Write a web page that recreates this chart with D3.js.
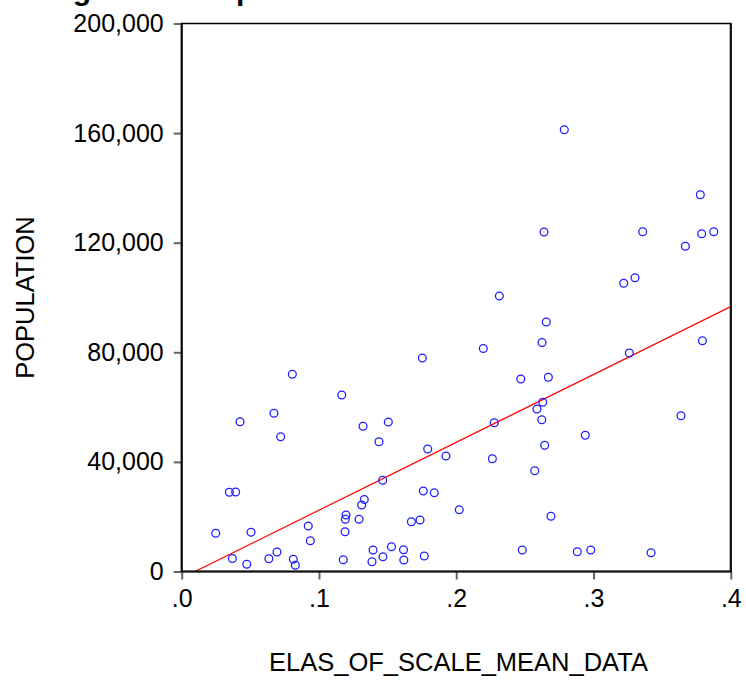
<html>
<head>
<meta charset="utf-8">
<title>Population vs ELAS_OF_SCALE_MEAN_DATA</title>
<script src="https://d3js.org/d3.v7.min.js"></script>
<style>
  body { margin: 0; background: #fff; }
  text { font-family: "Liberation Sans", Arial, Helvetica, sans-serif; }
</style>
</head>
<body>
<div id="chart"></div>
<script>
// values
const elasOfScale = [
  0.0806, 0.1166, 0.0672, 0.0425, 0.1321, 0.0721, 0.1437, 0.0347, 0.0393, 0.1330,
  0.1311, 0.1197, 0.1192, 0.1292, 0.0922, 0.0248, 0.0505, 0.1190, 0.0937, 0.1394,
  0.0694, 0.0369, 0.0635, 0.0813, 0.1177, 0.0474, 0.0828, 0.1386, 0.1466, 0.1753,
  0.2197, 0.2625, 0.2470, 0.2671, 0.2630, 0.2588, 0.2623, 0.1505, 0.2277, 0.2644,
  0.1792, 0.1925, 0.2263, 0.2572, 0.1464, 0.1760, 0.1840, 0.2022, 0.1736, 0.1673,
  0.2690, 0.1528, 0.1616, 0.2481, 0.1618, 0.1767, 0.2787, 0.3778, 0.2639, 0.3358,
  0.3788, 0.3876, 0.3669, 0.3220, 0.3302, 0.2656, 0.3793, 0.3261, 0.3637, 0.2940,
  0.2882, 0.2980, 0.3419, 0.2314
];
const population = [
  71970, 64415, 57735, 54670, 52990, 49200, 47370, 28905, 29015, 26280,
  24270, 20620, 19050, 19050, 16605, 13940, 14305, 14525, 11240, 7845,
  7115, 4745, 4670, 4490, 4305, 2630, 2300, 3575, 5400, 77920,
  81385, 83575, 70255, 70875, 61750, 59305, 55400, 54560, 54306, 46058,
  44708, 42153, 41167, 36788, 33284, 29379, 28759, 22555, 18795, 18175,
  20146, 9014, 7956, 7847, 4197, 5657, 161240, 137517, 123904, 124013,
  123284, 124013, 118685, 105181, 107225, 91058, 84233, 79744, 56861, 49708,
  7226, 7847, 6861, 100546
];
const fitIntercept = -2400;
const fitSlope = 247700;

const xTicks = [0, 0.1, 0.2, 0.3, 0.4];
const xTickLabels = [".0", ".1", ".2", ".3", ".4"];
const yTicks = [0, 40000, 80000, 120000, 160000, 200000];
const yTickLabels = ["0", "40,000", "80,000", "120,000", "160,000", "200,000"];

const titleText = "Figure 10: Population vs Elas of Scale Mean";
const xLabel = "ELAS_OF_SCALE_MEAN_DATA";
const yLabel = "POPULATION";

const W = 746, H = 683;
const margin = {top: 23.5, right: 15.2, bottom: 111.5, left: 181.7};
const width = W - margin.left - margin.right;
const height = H - margin.top - margin.bottom;

const svg = d3.select("#chart").append("svg")
    .attr("width", W)
    .attr("height", H);

// title: in the source picture it sits above the top edge, only its bottom shows
svg.append("text")
    .attr("x", 46)
    .attr("y", 0)
    .style("font-weight", "bold")
    .style("font-size", "30px")
    .text(titleText);

const g = svg.append("g")
    .attr("transform", "translate(" + margin.left + "," + margin.top + ")");

const x = d3.scaleLinear().domain([0, 0.4]).range([0, width]);
const y = d3.scaleLinear().domain([0, 200000]).range([height, 0]);

g.append("clipPath").attr("id", "plotclip")
  .append("rect").attr("width", width).attr("height", height);

// fitted line
const xStart = Math.max(0, -fitIntercept / fitSlope);
const xEnd = 0.4;
g.append("line")
    .attr("clip-path", "url(#plotclip)")
    .attr("x1", x(xStart)).attr("y1", y(fitIntercept + fitSlope * xStart))
    .attr("x2", x(xEnd)).attr("y2", y(fitIntercept + fitSlope * xEnd))
    .attr("stroke", "#ff0000")
    .attr("stroke-width", 1.2);

// points
g.selectAll("circle.pt")
    .data(d3.range(elasOfScale.length))
    .enter().append("circle")
    .attr("class", "pt")
    .attr("cx", i => x(elasOfScale[i]))
    .attr("cy", i => y(population[i]))
    .attr("r", 3.9)
    .attr("fill", "none")
    .attr("stroke", "#1f1fff")
    .attr("stroke-width", 1.3);

// axes
const xAxis = g.append("g")
    .attr("transform", "translate(0," + height + ")")
    .call(d3.axisBottom(x).tickValues(xTicks).tickSize(8).tickPadding(10)
        .tickFormat((d, i) => xTickLabels[i]));
const yAxis = g.append("g")
    .call(d3.axisLeft(y).tickValues(yTicks).tickSize(8).tickPadding(10)
        .tickFormat((d, i) => yTickLabels[i]));

[xAxis, yAxis].forEach(a => {
  a.select(".domain").remove();
  a.selectAll(".tick line").attr("stroke", "#666").attr("stroke-width", 2);
  a.selectAll(".tick text")
      .attr("fill", "#000")
      .style("font-size", "25px")
      .style("font-family", "'Liberation Sans', Arial, Helvetica, sans-serif");
});

// frame
g.append("rect")
    .attr("width", width).attr("height", height)
    .attr("fill", "none")
    .attr("stroke", "#000")
    .attr("stroke-width", 1.5);
g.append("path")
    .attr("d", "M0,0V" + height + "H" + width + "V0")
    .attr("fill", "none")
    .attr("stroke", "#111")
    .attr("stroke-width", 2.2);

// axis titles
svg.append("text")
    .attr("x", 458.5)
    .attr("y", 671)
    .attr("text-anchor", "middle")
    .style("font-size", "25.5px")
    .text(xLabel);
svg.append("text")
    .attr("transform", "translate(33.5," + (margin.top + height / 2) + ") rotate(-90)")
    .attr("text-anchor", "middle")
    .style("font-size", "25.5px")
    .text(yLabel);
</script>
</body>
</html>
